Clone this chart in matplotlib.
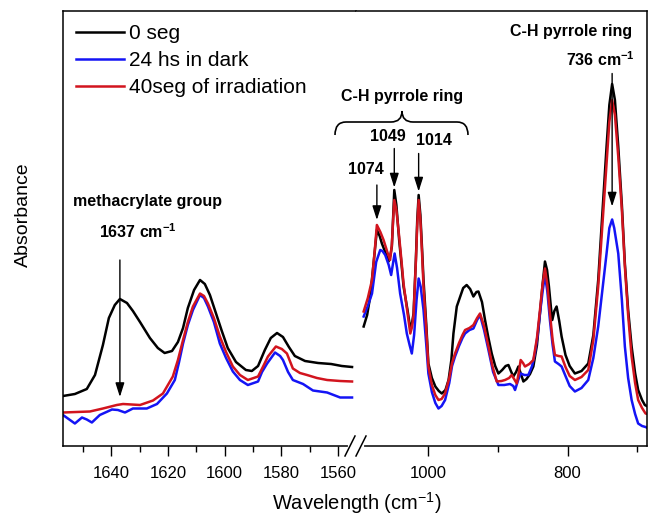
import matplotlib
matplotlib.use('Agg')
import matplotlib.pyplot as plt
from matplotlib.path import Path
from matplotlib.patches import PathPatch
from matplotlib.lines import Line2D
from matplotlib.ticker import FixedLocator

plt.rcParams['font.family'] = ['Liberation Sans', 'DejaVu Sans']
plt.rcParams['mathtext.fontset'] = 'custom'
plt.rcParams['mathtext.rm'] = 'Liberation Sans'
plt.rcParams['mathtext.bf'] = 'Liberation Sans:bold'

# ---- spectra, high wavenumber window (1660-1550 cm-1) ----
wn_hi_black = [1657.1, 1652.9, 1648.7, 1645.8, 1643.0, 1640.9, 1638.8, 1637.0, 1634.5, 1632.4,
               1629.9, 1626.4, 1623.6, 1621.2, 1618.6, 1616.5, 1614.7, 1613.0, 1610.8, 1608.7,
               1607.0, 1605.2, 1603.1, 1601.0, 1598.9, 1596.0, 1592.5, 1590.4, 1588.2, 1585.8,
               1583.7, 1581.5, 1579.4, 1577.3, 1575.2, 1571.6, 1567.0, 1562.4, 1558.6, 1555.0]
abs_hi_black = [0.098, 0.102, 0.112, 0.140, 0.200, 0.254, 0.280, 0.292, 0.284, 0.268,
                0.246, 0.214, 0.194, 0.184, 0.188, 0.206, 0.234, 0.274, 0.310, 0.330,
                0.322, 0.300, 0.264, 0.228, 0.194, 0.166, 0.150, 0.148, 0.158, 0.190,
                0.214, 0.224, 0.216, 0.196, 0.178, 0.168, 0.164, 0.162, 0.158, 0.156]

wn_hi_red = [1657.1, 1647.6, 1643.0, 1638.1, 1635.9, 1629.9, 1625.3, 1621.8, 1618.3, 1616.5,
             1614.7, 1613.0, 1611.2, 1608.7, 1607.3, 1605.9, 1603.8, 1601.7, 1599.5, 1597.1,
             1594.6, 1591.8, 1588.2, 1586.5, 1584.7, 1581.9, 1579.8, 1578.0, 1575.9, 1573.4,
             1570.9, 1567.4, 1563.8, 1559.2, 1555.0]
abs_hi_red = [0.065, 0.067, 0.073, 0.080, 0.082, 0.080, 0.089, 0.103, 0.137, 0.170,
              0.210, 0.246, 0.277, 0.303, 0.298, 0.283, 0.254, 0.217, 0.186, 0.157,
              0.140, 0.130, 0.137, 0.156, 0.177, 0.197, 0.192, 0.183, 0.153, 0.144,
              0.140, 0.134, 0.130, 0.128, 0.127]

wn_hi_blue = [1657.1, 1652.9, 1650.4, 1648.7, 1646.9, 1644.1, 1639.8, 1637.7, 1635.2, 1632.4,
              1627.5, 1623.9, 1620.4, 1617.6, 1616.1, 1614.7, 1613.0, 1611.2, 1608.7, 1607.3,
              1605.9, 1603.8, 1601.7, 1599.5, 1597.1, 1594.6, 1591.8, 1588.2, 1586.8, 1585.0,
              1582.2, 1580.4, 1579.4, 1577.6, 1575.9, 1572.3, 1568.8, 1563.8, 1559.2, 1555.0]
abs_hi_blue = [0.060, 0.043, 0.055, 0.051, 0.045, 0.060, 0.071, 0.070, 0.065, 0.073,
               0.073, 0.082, 0.103, 0.130, 0.166, 0.203, 0.240, 0.270, 0.300, 0.294,
               0.277, 0.246, 0.203, 0.174, 0.147, 0.130, 0.120, 0.127, 0.146, 0.163,
               0.185, 0.178, 0.170, 0.146, 0.130, 0.122, 0.109, 0.105, 0.095, 0.095]

# ---- spectra, fingerprint window (1100-685 cm-1) ----
wn_lo_black = [1093, 1088, 1083.6, 1079, 1074, 1070, 1066.8, 1062, 1057.2, 1054.5,
               1052.5, 1050.5, 1049, 1046, 1042, 1038.5, 1035.7, 1030, 1026, 1023.5,
               1021.3, 1018, 1016, 1014, 1011.5, 1009, 1007, 1003, 1000, 995,
               990, 985, 980.7, 975.5, 971, 967, 964, 959.2, 954, 950,
               945, 940, 935.3, 931, 928.1, 923, 918.6, 914, 909, 904,
               899.4, 894, 889, 885, 881.5, 878, 874, 870.7, 867, 863.5,
               859, 854, 849.2, 844, 839.7, 836, 832.5, 829.5, 826.8, 824,
               822, 819, 815.8, 812, 808.6, 803, 797, 789.5, 780, 770.3,
               763, 756, 750, 744, 740, 736, 732, 727.2, 722, 717.7,
               713, 708, 703, 698.6, 693, 689, 685]
abs_lo_black = [0.237, 0.260, 0.297, 0.360, 0.430, 0.418, 0.403, 0.386, 0.367, 0.380,
                0.397, 0.460, 0.510, 0.480, 0.410, 0.360, 0.317, 0.270, 0.233, 0.244,
                0.263, 0.370, 0.450, 0.500, 0.460, 0.390, 0.330, 0.240, 0.163, 0.134,
                0.117, 0.108, 0.103, 0.110, 0.130, 0.170, 0.223, 0.277, 0.298, 0.314,
                0.320, 0.312, 0.297, 0.306, 0.307, 0.286, 0.250, 0.216, 0.183, 0.158,
                0.143, 0.150, 0.158, 0.160, 0.148, 0.137, 0.146, 0.157, 0.142, 0.127,
                0.132, 0.142, 0.157, 0.200, 0.263, 0.320, 0.367, 0.350, 0.317, 0.276,
                0.250, 0.268, 0.277, 0.248, 0.217, 0.180, 0.158, 0.143, 0.148, 0.163,
                0.220, 0.330, 0.464, 0.597, 0.680, 0.722, 0.690, 0.597, 0.480, 0.363,
                0.270, 0.197, 0.144, 0.110, 0.090, 0.080, 0.077]

wn_lo_red = [1093, 1087, 1081, 1077, 1074, 1069, 1064.4, 1059, 1055, 1052.5,
             1050.5, 1049, 1046, 1042, 1038.5, 1035.7, 1030, 1026, 1023.5, 1021.3,
             1018, 1016, 1014, 1011.5, 1009, 1007, 1003, 1000, 995, 990,
             985.5, 981, 976, 970, 966, 961.7, 956, 951, 947.3, 941,
             935.3, 930, 925.8, 920, 913.7, 908, 901.8, 895, 889.9, 884,
             880.3, 876, 873, 870, 867.4, 864, 861.2, 855, 849.2, 844,
             839.7, 836, 832.5, 829, 825.4, 821.5, 818.2, 813, 808.6, 803,
             797, 789.5, 780, 770.3, 763, 756, 750, 744, 740, 736,
             732, 727.2, 722, 717.7, 713, 708, 703, 698.6, 693, 688, 685]
abs_lo_red = [0.267, 0.294, 0.330, 0.390, 0.440, 0.426, 0.410, 0.386, 0.370, 0.400,
              0.454, 0.490, 0.470, 0.417, 0.366, 0.323, 0.264, 0.223, 0.236, 0.260,
              0.366, 0.440, 0.490, 0.450, 0.380, 0.317, 0.230, 0.157, 0.120, 0.100,
              0.090, 0.092, 0.103, 0.134, 0.164, 0.183, 0.204, 0.220, 0.230, 0.234,
              0.240, 0.254, 0.263, 0.238, 0.197, 0.158, 0.127, 0.128, 0.130, 0.134,
              0.140, 0.130, 0.123, 0.146, 0.170, 0.164, 0.157, 0.162, 0.170, 0.214,
              0.270, 0.320, 0.353, 0.320, 0.263, 0.210, 0.180, 0.178, 0.177, 0.156,
              0.138, 0.130, 0.136, 0.150, 0.210, 0.317, 0.440, 0.563, 0.646, 0.690,
              0.660, 0.577, 0.470, 0.357, 0.260, 0.177, 0.124, 0.090, 0.074, 0.063, 0.062]

wn_lo_blue = [1093, 1087, 1081, 1075, 1069.2, 1066, 1062, 1057, 1053.5, 1050.5,
              1048.5, 1045, 1040.6, 1035, 1031, 1027, 1023.8, 1020.5, 1017, 1014,
              1011, 1007, 1003, 1000, 995, 990, 985.5, 981, 976, 970,
              966, 961.7, 956, 951, 947.3, 941, 935.3, 930, 925.8, 920,
              913.7, 907, 899.4, 891, 882.7, 878, 875.5, 871, 867.4, 862,
              856.4, 851, 847, 843, 839.7, 836, 832.5, 829, 825.4, 821.5,
              818.2, 813, 808.6, 803, 797, 789.5, 780, 770.3, 763, 756,
              750, 744, 740, 736, 733, 727.2, 722, 717.7, 713, 708,
              703, 698.6, 693, 688, 685]
abs_lo_blue = [0.257, 0.278, 0.303, 0.366, 0.390, 0.388, 0.380, 0.360, 0.340, 0.366,
               0.383, 0.354, 0.303, 0.260, 0.223, 0.200, 0.183, 0.220, 0.290, 0.333,
               0.316, 0.270, 0.200, 0.143, 0.106, 0.084, 0.073, 0.078, 0.090, 0.124,
               0.158, 0.177, 0.198, 0.214, 0.223, 0.230, 0.233, 0.250, 0.260, 0.230,
               0.190, 0.146, 0.120, 0.120, 0.122, 0.118, 0.110, 0.130, 0.143, 0.140,
               0.140, 0.158, 0.183, 0.220, 0.263, 0.306, 0.340, 0.306, 0.250, 0.200,
               0.167, 0.162, 0.157, 0.138, 0.118, 0.107, 0.114, 0.130, 0.174, 0.237,
               0.310, 0.383, 0.434, 0.451, 0.434, 0.383, 0.290, 0.197, 0.134, 0.090,
               0.062, 0.043, 0.038, 0.036, 0.034]

labels = ['0 seg', '24 hs in dark', '40seg of irradiation']
colors = ['black', '#1414f5', '#d2141e']

W, H = 648, 515
fig = plt.figure(figsize=(W / 100, H / 100), dpi=100)

# two panels sharing one frame, break between them
x0, xb, x1 = 63, 356, 647
yb, yt = 446, 11
ax_l = fig.add_axes([x0 / W, (H - yb) / H, (xb - x0) / W, (yb - yt) / H])
ax_r = fig.add_axes([xb / W, (H - yb) / H, (x1 - xb) / W, (yb - yt) / H])

hi = [(wn_hi_black, abs_hi_black), (wn_hi_blue, abs_hi_blue), (wn_hi_red, abs_hi_red)]
lo = [(wn_lo_black, abs_lo_black), (wn_lo_blue, abs_lo_blue), (wn_lo_red, abs_lo_red)]
handles = []
for (x, y), c, lab in zip(hi, colors, labels):
    h, = ax_l.plot(x, y, color=c, lw=1.8, label=lab)
    handles.append(h)
for (x, y), c in zip(lo, colors):
    ax_r.plot(x, y, color=c, lw=1.8)

ax_l.set_xlim(1657.1, 1553.6)
ax_r.set_xlim(1104.0, 685.9)
for ax in (ax_l, ax_r):
    ax.set_ylim(-0.002, 0.868)
    ax.set_yticks([])
    ax.tick_params(axis='x', which='major', direction='out', length=7.5, width=1,
                   labelsize=12, pad=7)
    ax.tick_params(axis='x', which='minor', direction='out', length=4.5, width=1)
    for s in ax.spines.values():
        s.set_linewidth(1.1)

ax_l.xaxis.set_major_locator(FixedLocator([1640, 1620, 1600, 1580, 1560]))
ax_l.xaxis.set_minor_locator(FixedLocator([1650, 1630, 1610, 1590, 1570]))
ax_r.xaxis.set_major_locator(FixedLocator([1000, 800]))
ax_r.xaxis.set_minor_locator(FixedLocator([900, 700]))
ax_l.spines['right'].set_visible(False)
ax_r.spines['left'].set_visible(False)

fs_b = 11.5
# methacrylate band
ax_l.text(1627.3, 0.487, 'methacrylate group', fontsize=fs_b, fontweight='bold',
          ha='center', va='center')
ax_l.text(1630.6, 0.427, r'1637 cm$^{\mathbf{-1}}$', fontsize=fs_b, fontweight='bold',
          ha='center', va='center')

arrow = dict(arrowstyle='-|>,head_length=0.85,head_width=0.27', color='black',
             lw=1.0, shrinkA=0, shrinkB=0, mutation_scale=10)
ax_l.annotate('', xy=(1637, 0.096), xytext=(1637, 0.370), arrowprops=arrow)

# pyrrole ring bands
peaks = [(1074, 0.450, 0.520, 1090.4, 0.551),
         (1049, 0.515, 0.593, 1058.0, 0.618),
         (1014, 0.507, 0.583, 992.0, 0.610)]
for wn, y_tip, y_top, tx, ty in peaks:
    ax_r.annotate('', xy=(wn, y_tip), xytext=(wn, y_top), arrowprops=arrow,
                  annotation_clip=False)
    ax_r.text(tx, ty, str(wn), fontsize=fs_b, fontweight='bold', ha='center', va='center')

ax_r.text(1038.4, 0.697, 'C-H pyrrole ring', fontsize=fs_b, fontweight='bold',
          ha='center', va='center')
ax_r.text(795.1, 0.827, 'C-H pyrrole ring', fontsize=fs_b, fontweight='bold',
          ha='center', va='center')
ax_r.text(753.4, 0.771, r'736 cm$^{\mathbf{-1}}$', fontsize=fs_b, fontweight='bold',
          ha='center', va='center')
ax_r.annotate('', xy=(736, 0.477), xytext=(736, 0.743), arrowprops=arrow)

ax_l.legend(handles=handles, loc='upper left', bbox_to_anchor=(76 / W, 1 - 24 / H),
            bbox_transform=fig.transFigure, frameon=False, fontsize=15,
            handlelength=2.3, handletextpad=0.25, labelspacing=0.38,
            borderpad=0, borderaxespad=0)

fig.text(357 / W, 1 - 503 / H, r'Wavelength (cm$^{-1}$)', fontsize=14.5,
         ha='center', va='center')
fig.text(23 / W, 1 - 215 / H, 'Absorbance', fontsize=14, rotation=90,
         ha='center', va='center')

# overlay in pixel units for the brace and the axis break
ov = fig.add_axes([0, 0, 1, 1], zorder=10)
ov.set_xlim(0, W)
ov.set_ylim(H, 0)
ov.axis('off')
ov.patch.set_alpha(0)

verts = [(335, 135), (335, 122), (346, 122), (391, 122), (402, 122), (402, 111),
         (402, 122), (413, 122), (457, 122), (468, 122), (468, 135)]
codes = [Path.MOVETO, Path.CURVE3, Path.CURVE3, Path.LINETO, Path.CURVE3, Path.CURVE3,
         Path.CURVE3, Path.CURVE3, Path.LINETO, Path.CURVE3, Path.CURVE3]
ov.add_patch(PathPatch(Path(verts, codes), fill=False, lw=1.2, color='black'))

ov.add_line(Line2D([349.5, 362], [yb, yb], color='white', lw=3))
ov.add_line(Line2D([345, 355], [456, 436], color='black', lw=1.1))
ov.add_line(Line2D([356, 366], [456, 436], color='black', lw=1.1))

fig.savefig('out.png', dpi=100)
